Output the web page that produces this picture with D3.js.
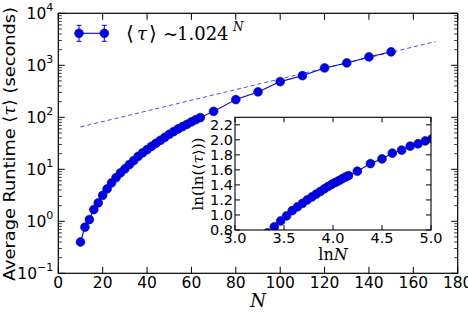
<!DOCTYPE html>
<html><head><meta charset="utf-8">
<script src="https://cdn.jsdelivr.net/npm/d3@7/dist/d3.min.js"></script>
<style>
body{margin:0;background:#fff;}
svg text{font-family:"DejaVu Sans",sans-serif;fill:#000;}
.serif{font-family:"DejaVu Serif","Liberation Serif",serif;}
</style></head>
<body>
<svg id="c" width="468" height="313"></svg>
<script>
// ---- data ----
const sizesN = [10,12,14,16,18,20,22,24,26,28,30,32,34,36,38,40,42,44,46,48,50,52,54,56,58,60,62,64,70,80,90,100,110,120,130,140,150];
const runtime = [0.40,0.77,1.08,1.68,2.26,3.16,4.2,5.5,6.9,8.5,10.2,12.3,14.7,17.8,20.7,23.9,27.7,31.6,36.1,41.2,47.1,53.1,59.8,66.2,73.3,81.6,90.3,98.7,130,219,308,486,632,890,1110,1450,1815];
const fitN = [10,170];
const fitTau = [65.3,2860];
const xTicks = [0,20,40,60,80,100,120,140,160,180];
const yTickExp = [-1,0,1,2,3,4];
const insetXTicks = [3.0,3.5,4.0,4.5,5.0];
const insetYTicks = [0.8,1.0,1.2,1.4,1.6,1.8,2.0,2.2];
const legendLabel = "1.024";

const svg = d3.select("#c");
const blue = "#0000f0", edge = "#00008b";

// ---- main axes ----
const L=58.3,R=457.7,T=13.3,B=273.3;
const x = d3.scaleLinear().domain([0,180]).range([L,R]);
const y = d3.scaleLog().domain([0.1,1e4]).range([B,T]);

svg.append("rect").attr("x",L).attr("y",T).attr("width",R-L).attr("height",B-T)
  .attr("fill","none").attr("stroke","#000").attr("stroke-width",1.2);

const gx = svg.append("g");
xTicks.forEach(v=>{
  gx.append("line").attr("x1",x(v)).attr("x2",x(v)).attr("y1",B).attr("y2",B-6.5).attr("stroke","#000");
  gx.append("line").attr("x1",x(v)).attr("x2",x(v)).attr("y1",T).attr("y2",T+6.5).attr("stroke","#000");
  gx.append("text").attr("x",x(v)).attr("y",B+14.5).attr("text-anchor","middle").attr("font-size",15.5).text(v);
});
const gy = svg.append("g");
for(let e=-1;e<=4;e++){
  const v=Math.pow(10,e);
  gy.append("line").attr("x1",L).attr("x2",L+6.5).attr("y1",y(v)).attr("y2",y(v)).attr("stroke","#000");
  gy.append("line").attr("x1",R).attr("x2",R-6.5).attr("y1",y(v)).attr("y2",y(v)).attr("stroke","#000");
  if(e<4){
    for(let m=2;m<=9;m++){
      const mv=m*v;
      gy.append("line").attr("x1",L).attr("x2",L+3.5).attr("y1",y(mv)).attr("y2",y(mv)).attr("stroke","#000").attr("stroke-width",0.8);
      gy.append("line").attr("x1",R).attr("x2",R-3.5).attr("y1",y(mv)).attr("y2",y(mv)).attr("stroke","#000").attr("stroke-width",0.8);
    }
  }
}
yTickExp.forEach(e=>{
  const t = gy.append("text").attr("x",L-5).attr("y",y(Math.pow(10,e))+5.5).attr("text-anchor","end").attr("font-size",15.5);
  t.append("tspan").text("10");
  t.append("tspan").attr("dy",-7.5).attr("font-size",11).text(String(e).replace("-","\u2212"));
});

// fit line
svg.append("line").attr("x1",x(fitN[0])).attr("y1",y(fitTau[0])).attr("x2",x(fitN[1])).attr("y2",y(fitTau[1]))
  .attr("stroke","#4a4af0").attr("stroke-width",1).attr("stroke-dasharray","4,3");

// data
const pts = sizesN.map((n,i)=>({n, t:runtime[i]}));
svg.append("path").datum(pts).attr("fill","none").attr("stroke",blue).attr("stroke-width",1.1)
  .attr("d", d3.line().x(d=>x(d.n)).y(d=>y(d.t)));
svg.append("g").selectAll("circle").data(pts).join("circle")
  .attr("cx",d=>x(d.n)).attr("cy",d=>y(d.t)).attr("r",4.4)
  .attr("fill",blue).attr("stroke",edge).attr("stroke-width",0.6);

// axis labels
svg.append("text").attr("class","serif").attr("x",258).attr("y",306.5).attr("text-anchor","middle")
  .attr("font-size",18).attr("font-style","italic").text("N");
const yl = svg.append("text").attr("transform","translate(15,144) rotate(-90)").attr("text-anchor","middle")
  .attr("font-size",16.5).attr("textLength",274).attr("lengthAdjust","spacingAndGlyphs");
yl.append("tspan").text("Average Runtime ");
yl.append("tspan").attr("class","serif").text("\u27E8");
yl.append("tspan").attr("class","serif").attr("font-style","italic").text("\u03C4");
yl.append("tspan").attr("class","serif").text("\u27E9");
yl.append("tspan").text(" (seconds)");

// legend
const ly=33.3, lx1=79, lx2=104.3;
svg.append("line").attr("x1",lx1).attr("x2",lx2).attr("y1",ly).attr("y2",ly).attr("stroke",blue).attr("stroke-width",1.1);
[lx1,lx2].forEach(px=>{
  svg.append("line").attr("x1",px).attr("x2",px).attr("y1",ly-8).attr("y2",ly+8).attr("stroke",blue).attr("stroke-width",1);
  svg.append("line").attr("x1",px-2.5).attr("x2",px+2.5).attr("y1",ly-8).attr("y2",ly-8).attr("stroke",blue).attr("stroke-width",1);
  svg.append("line").attr("x1",px-2.5).attr("x2",px+2.5).attr("y1",ly+8).attr("y2",ly+8).attr("stroke",blue).attr("stroke-width",1);
  svg.append("circle").attr("cx",px).attr("cy",ly).attr("r",4.4).attr("fill",blue).attr("stroke",edge).attr("stroke-width",0.6);
});
const lt = svg.append("text").attr("class","serif").attr("y",39.5).attr("font-size",18);
lt.append("tspan").attr("x",126).attr("font-size",20).text("\u27E8");
lt.append("tspan").attr("x",137).attr("font-style","italic").text("\u03C4");
lt.append("tspan").attr("x",149).attr("font-size",20).text("\u27E9");
lt.append("tspan").attr("x",163).text("~");
lt.append("tspan").attr("x",177).text(legendLabel);
lt.append("tspan").attr("x",233).attr("dy",-9).attr("font-size",12).attr("font-style","italic").text("N");

// ---- inset ----
const iL=235,iR=431,iT=117.3,iB=230;
const ix = d3.scaleLinear().domain([3,5]).range([iL,iR]);
const iy = d3.scaleLinear().domain([0.8,2.3]).range([iB,iT]);
svg.append("rect").attr("x",iL).attr("y",iT).attr("width",iR-iL).attr("height",iB-iT).attr("fill","#fff");
svg.append("clipPath").attr("id","ic").append("rect").attr("x",iL).attr("y",iT).attr("width",iR-iL).attr("height",iB-iT);
const ipts = pts.map(d=>({a:Math.log(d.n), b:Math.log(Math.log(d.t))})).filter(d=>isFinite(d.b));
const ig = svg.append("g").attr("clip-path","url(#ic)");
ig.append("path").datum(ipts).attr("fill","none").attr("stroke",blue).attr("stroke-width",1.1)
  .attr("d", d3.line().x(d=>ix(d.a)).y(d=>iy(d.b)));
ig.selectAll("circle").data(ipts).join("circle").attr("cx",d=>ix(d.a)).attr("cy",d=>iy(d.b)).attr("r",4.4)
  .attr("fill",blue).attr("stroke",edge).attr("stroke-width",0.6);
svg.append("rect").attr("x",iL).attr("y",iT).attr("width",iR-iL).attr("height",iB-iT).attr("fill","none").attr("stroke","#000").attr("stroke-width",1.1);
insetXTicks.forEach(v=>{
  svg.append("line").attr("x1",ix(v)).attr("x2",ix(v)).attr("y1",iB).attr("y2",iB-5).attr("stroke","#000");
  svg.append("line").attr("x1",ix(v)).attr("x2",ix(v)).attr("y1",iT).attr("y2",iT+5).attr("stroke","#000");
  svg.append("text").attr("x",ix(v)).attr("y",iB+12.5).attr("text-anchor","middle").attr("font-size",14.5).text(v.toFixed(1));
});
insetYTicks.forEach(v=>{
  svg.append("line").attr("x1",iL).attr("x2",iL+5).attr("y1",iy(v)).attr("y2",iy(v)).attr("stroke","#000");
  svg.append("line").attr("x1",iR).attr("x2",iR-5).attr("y1",iy(v)).attr("y2",iy(v)).attr("stroke","#000");
  svg.append("text").attr("x",iL-2).attr("y",iy(v)+5).attr("text-anchor","end").attr("font-size",14.5).text(v.toFixed(1));
});
const ixl = svg.append("text").attr("class","serif").attr("x",333).attr("y",259.5).attr("text-anchor","middle").attr("font-size",16);
ixl.append("tspan").text("ln");
ixl.append("tspan").attr("font-style","italic").text("N");
const iyl = svg.append("text").attr("class","serif").attr("transform","translate(203,174) rotate(-90)").attr("text-anchor","middle")
  .attr("font-size",14).attr("textLength",73).attr("lengthAdjust","spacingAndGlyphs");
iyl.append("tspan").text("ln(ln(\u27E8");
iyl.append("tspan").attr("font-style","italic").text("\u03C4");
iyl.append("tspan").text("\u27E9))");
</script>
</body></html>
